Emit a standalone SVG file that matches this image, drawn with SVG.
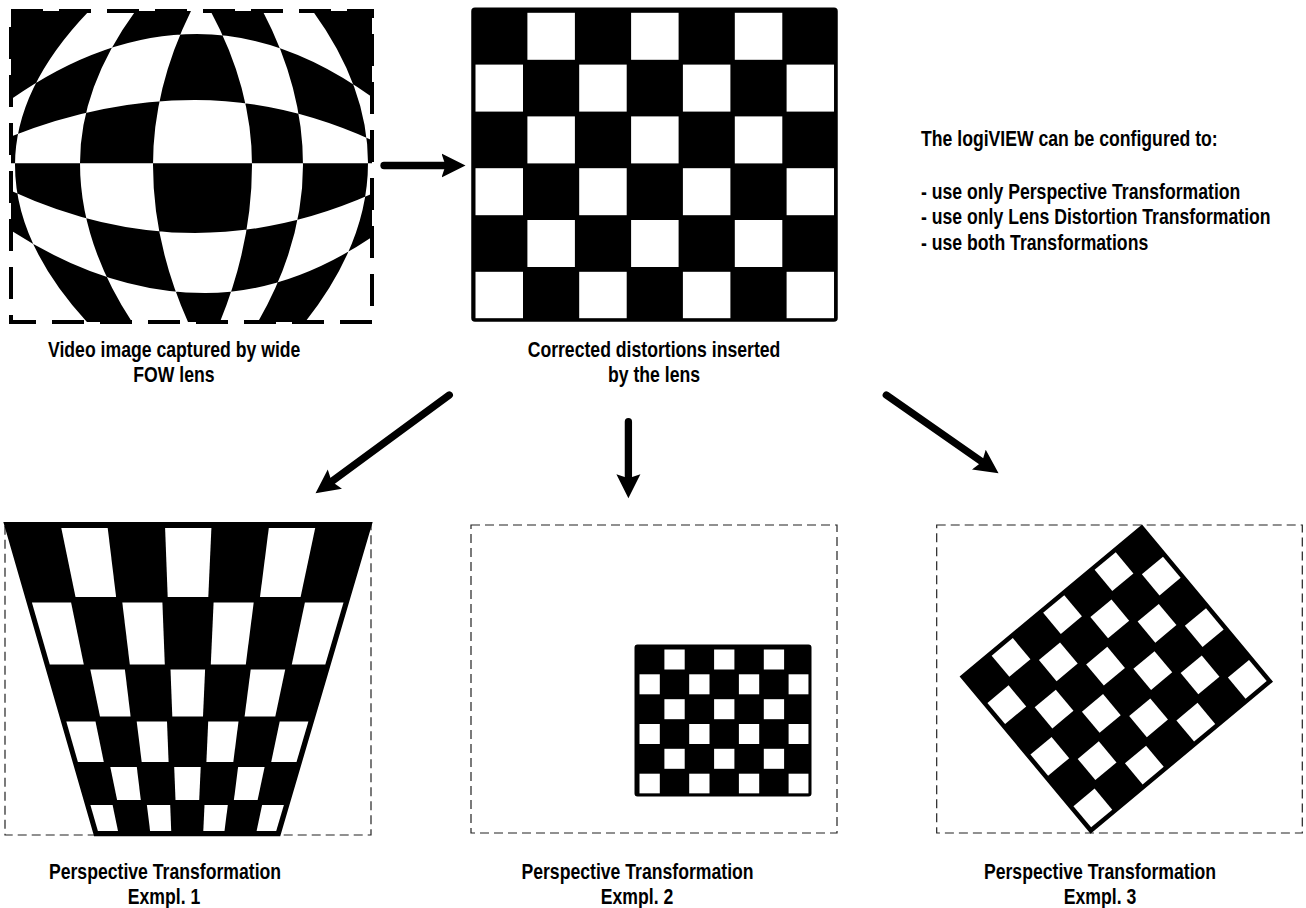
<svg xmlns="http://www.w3.org/2000/svg" width="1306" height="908" viewBox="0 0 1306 908">
<style>
.lbl{font-family:"Liberation Sans",Arial,sans-serif;font-weight:bold;font-size:21.5px;fill:#000}
.mid{text-anchor:middle}
.box{fill:none;stroke:#222;stroke-width:1.2;stroke-dasharray:9 5}
.w{fill:#fff}
.blk{fill:#000}
.edge{fill:none;stroke:#000}
.arrow{fill:none;stroke:#000;stroke-width:7.3;stroke-linecap:round;marker-end:url(#ah)}
</style>
<defs>
<marker id="ah" markerUnits="userSpaceOnUse" viewBox="0 0 26 26" markerWidth="26" markerHeight="26" refX="12" refY="12.5" orient="auto">
<path d="M0,0.5 L24,12.5 L0,24.5 L4,12.5 Z" fill="#000"/>
</marker>
<clipPath id="fishclip"><rect x="11" y="11" width="361" height="311"/></clipPath>
</defs>
<rect width="1306" height="908" fill="#fff"/>

<g id="fisheye">
<rect class="blk" x="11" y="11" width="361" height="311"/>
<path clip-path="url(#fishclip)" fill="#fff" fill-rule="evenodd" d="M0,107.3 Q98.5,34 197,34 Q289.5,34 382,104.5 L382,144.8 Q288.5,100 195,100 Q97.5,100 0,141 Z M0,163.3 L382,163.3 L382,189.3 Q288.5,233 195,233 Q97.5,233 0,185.5 Z M0,223.2 Q102.5,293 205,293 Q293.5,293 382,230 L382,340 L0,340 Z M100,0 Q15,82.5 15,165 Q15,248.5 96.4,332 L138.8,332 Q80,247.5 80,163 Q80,81.5 143.8,0 Z M196.6,0 Q153,82.5 153,165 Q153,248.5 192.6,332 L215.7,332 Q252,248.5 252,165 Q252,82.5 204.4,0 Z M256.7,0 Q303,82.5 303,165 Q303,248.5 252,332 L297,332 Q368,247.5 368,163 Q368,81.5 304.5,0 Z"/>
<rect x="11" y="11" width="361" height="311" fill="none" stroke="#000" stroke-width="4" stroke-dasharray="32 16"/>
<text class="lbl mid" transform="translate(174.2,357) scale(0.82,1)">Video image captured by wide</text>
<text class="lbl mid" transform="translate(174,382) scale(0.82,1)">FOW lens</text>
</g>

<g id="corrected">
<rect class="blk" x="473" y="9.3" width="363" height="310.8" rx="2"/>
<rect class="w" x="527.4" y="12.8" width="47.5" height="47"/>
<rect class="w" x="631.1" y="12.8" width="47.5" height="47"/>
<rect class="w" x="734.8" y="12.8" width="47.5" height="47"/>
<rect class="w" x="475.5" y="64.6" width="47.5" height="47"/>
<rect class="w" x="579.2" y="64.6" width="47.5" height="47"/>
<rect class="w" x="682.9" y="64.6" width="47.5" height="47"/>
<rect class="w" x="786.6" y="64.6" width="47.5" height="47"/>
<rect class="w" x="527.4" y="116.4" width="47.5" height="47"/>
<rect class="w" x="631.1" y="116.4" width="47.5" height="47"/>
<rect class="w" x="734.8" y="116.4" width="47.5" height="47"/>
<rect class="w" x="475.5" y="168.2" width="47.5" height="47"/>
<rect class="w" x="579.2" y="168.2" width="47.5" height="47"/>
<rect class="w" x="682.9" y="168.2" width="47.5" height="47"/>
<rect class="w" x="786.6" y="168.2" width="47.5" height="47"/>
<rect class="w" x="527.4" y="220" width="47.5" height="47"/>
<rect class="w" x="631.1" y="220" width="47.5" height="47"/>
<rect class="w" x="734.8" y="220" width="47.5" height="47"/>
<rect class="w" x="475.5" y="271.8" width="47.5" height="47"/>
<rect class="w" x="579.2" y="271.8" width="47.5" height="47"/>
<rect class="w" x="682.9" y="271.8" width="47.5" height="47"/>
<rect class="w" x="786.6" y="271.8" width="47.5" height="47"/>
<rect class="edge" x="473" y="9.3" width="363" height="310.8" rx="2" stroke-width="3.5"/>
<text class="lbl mid" transform="translate(654,357) scale(0.82,1)">Corrected distortions inserted</text>
<text class="lbl mid" transform="translate(654,382) scale(0.82,1)">by the lens</text>
</g>

<g id="config-note">
<text class="lbl" transform="translate(921,145.5) scale(0.82,1)">The logiVIEW can be configured to:</text>
<text class="lbl" transform="translate(921,198.5) scale(0.82,1)">- use only Perspective Transformation</text>
<text class="lbl" transform="translate(921,224) scale(0.82,1)">- use only Lens Distortion Transformation</text>
<text class="lbl" transform="translate(921,250) scale(0.82,1)">- use both Transformations</text>
</g>

<g id="example1">
<rect class="box" x="5" y="523.3" width="366" height="311.7"/>
<polygon points="5,523.3 371,523.3 279.3,835 95,835" fill="#000" stroke="#000" stroke-width="2.5"/>
<polygon class="w" points="61.3,528 107.7,528 116.1,597 75.5,597"/>
<polygon class="w" points="165.1,528 211.4,528 208.3,597 167.7,597"/>
<polygon class="w" points="268.8,528 315.2,528 300.6,597 260,597"/>
<polygon class="w" points="31.9,602.5 71.1,602.5 83.8,664.5 49.8,664.5"/>
<polygon class="w" points="122.3,602.5 162.4,602.5 164.8,664.5 129.8,664.5"/>
<polygon class="w" points="213.6,602.5 253.7,602.5 245.8,664.5 210.8,664.5"/>
<polygon class="w" points="304.9,602.5 343.5,602.5 325.3,664.5 291.8,664.5"/>
<polygon class="w" points="90.3,669.5 124.9,669.5 130.6,716.5 100,716.5"/>
<polygon class="w" points="170.5,669.5 205.1,669.5 203,716.5 172.3,716.5"/>
<polygon class="w" points="250.7,669.5 285.2,669.5 275.3,716.5 244.6,716.5"/>
<polygon class="w" points="66.3,721.5 95.5,721.5 103.8,762 77.9,762"/>
<polygon class="w" points="136.7,721.5 167,721.5 168.6,762 141.7,762"/>
<polygon class="w" points="208.2,721.5 238.5,721.5 233.3,762 206.4,762"/>
<polygon class="w" points="279.7,721.5 308.4,721.5 296.5,762 271.2,762"/>
<polygon class="w" points="110.3,767 136.8,767 140.8,800 117.1,800"/>
<polygon class="w" points="174.2,767 200.7,767 199.2,800 175.5,800"/>
<polygon class="w" points="238.1,767 264.6,767 257.6,800 233.9,800"/>
<polygon class="w" points="90.4,805 112.6,805 118,831 97.9,831"/>
<polygon class="w" points="146.9,805 170.2,805 171.2,831 150.1,831"/>
<polygon class="w" points="204.5,805 227.8,805 224.5,831 203.3,831"/>
<polygon class="w" points="262.1,805 283.9,805 276.2,831 256.6,831"/>
<text class="lbl mid" transform="translate(165,879) scale(0.82,1)">Perspective Transformation</text>
<text class="lbl mid" transform="translate(164,904) scale(0.82,1)">Exmpl. 1</text>
</g>

<g id="example2">
<rect class="box" x="471" y="525" width="366" height="308"/>
<rect class="blk" x="636" y="646" width="174" height="149" rx="1.5"/>
<rect class="w" x="664.4" y="649.5" width="20.3" height="20"/>
<rect class="w" x="714.1" y="649.5" width="20.3" height="20"/>
<rect class="w" x="763.8" y="649.5" width="20.3" height="20"/>
<rect class="w" x="639.5" y="674.3" width="20.3" height="20"/>
<rect class="w" x="689.2" y="674.3" width="20.3" height="20"/>
<rect class="w" x="738.9" y="674.3" width="20.3" height="20"/>
<rect class="w" x="788.6" y="674.3" width="20.3" height="20"/>
<rect class="w" x="664.4" y="699.2" width="20.3" height="20"/>
<rect class="w" x="714.1" y="699.2" width="20.3" height="20"/>
<rect class="w" x="763.8" y="699.2" width="20.3" height="20"/>
<rect class="w" x="639.5" y="724" width="20.3" height="20"/>
<rect class="w" x="689.2" y="724" width="20.3" height="20"/>
<rect class="w" x="738.9" y="724" width="20.3" height="20"/>
<rect class="w" x="788.6" y="724" width="20.3" height="20"/>
<rect class="w" x="664.4" y="748.8" width="20.3" height="20"/>
<rect class="w" x="714.1" y="748.8" width="20.3" height="20"/>
<rect class="w" x="763.8" y="748.8" width="20.3" height="20"/>
<rect class="w" x="639.5" y="773.7" width="20.3" height="20"/>
<rect class="w" x="689.2" y="773.7" width="20.3" height="20"/>
<rect class="w" x="738.9" y="773.7" width="20.3" height="20"/>
<rect class="w" x="788.6" y="773.7" width="20.3" height="20"/>
<rect class="edge" x="636" y="646" width="174" height="149" rx="1.5" stroke-width="3"/>
<text class="lbl mid" transform="translate(637.5,879) scale(0.82,1)">Perspective Transformation</text>
<text class="lbl mid" transform="translate(637,904) scale(0.82,1)">Exmpl. 2</text>
</g>

<g id="example3">
<rect class="box" x="936.7" y="525" width="365.6" height="308"/>
<g transform="translate(961.7,676.7) rotate(-39.8)">
<rect class="blk" x="0" y="0" width="234.5" height="201.6"/>
<rect class="w" x="36.5" y="3" width="27.5" height="27.6"/>
<rect class="w" x="103.5" y="3" width="27.5" height="27.6"/>
<rect class="w" x="170.5" y="3" width="27.5" height="27.6"/>
<rect class="w" x="3" y="36.6" width="27.5" height="27.6"/>
<rect class="w" x="70" y="36.6" width="27.5" height="27.6"/>
<rect class="w" x="137" y="36.6" width="27.5" height="27.6"/>
<rect class="w" x="204" y="36.6" width="27.5" height="27.6"/>
<rect class="w" x="36.5" y="70.2" width="27.5" height="27.6"/>
<rect class="w" x="103.5" y="70.2" width="27.5" height="27.6"/>
<rect class="w" x="170.5" y="70.2" width="27.5" height="27.6"/>
<rect class="w" x="3" y="103.8" width="27.5" height="27.6"/>
<rect class="w" x="70" y="103.8" width="27.5" height="27.6"/>
<rect class="w" x="137" y="103.8" width="27.5" height="27.6"/>
<rect class="w" x="204" y="103.8" width="27.5" height="27.6"/>
<rect class="w" x="36.5" y="137.4" width="27.5" height="27.6"/>
<rect class="w" x="103.5" y="137.4" width="27.5" height="27.6"/>
<rect class="w" x="170.5" y="137.4" width="27.5" height="27.6"/>
<rect class="w" x="3" y="171" width="27.5" height="27.6"/>
<rect class="w" x="70" y="171" width="27.5" height="27.6"/>
<rect class="w" x="137" y="171" width="27.5" height="27.6"/>
<rect class="w" x="204" y="171" width="27.5" height="27.6"/>
<rect class="edge" x="0" y="0" width="234.5" height="201.6" stroke-width="3"/>
</g>
<text class="lbl mid" transform="translate(1100,879) scale(0.82,1)">Perspective Transformation</text>
<text class="lbl mid" transform="translate(1100,904) scale(0.82,1)">Exmpl. 3</text>
</g>

<g id="connectors">
<line class="arrow" x1="384" y1="165.5" x2="453.5" y2="165.5"/>
<line class="arrow" x1="449.3" y1="395" x2="325.2" y2="486.2"/>
<line class="arrow" x1="628.4" y1="421.7" x2="628.4" y2="486.3"/>
<line class="arrow" x1="886.3" y1="395" x2="988.7" y2="466.4"/>
</g>
</svg>
